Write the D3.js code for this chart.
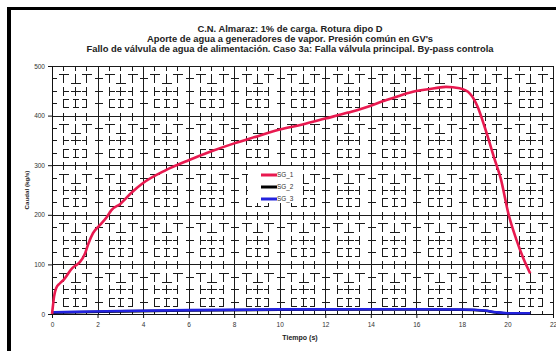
<!DOCTYPE html>
<html>
<head>
<meta charset="utf-8">
<script src="https://cdn.jsdelivr.net/npm/d3@7"></script>
<style>
  html, body { margin: 0; padding: 0; background: #fff; }
  svg { display: block; font-family: "Liberation Sans", Arial, sans-serif; }
</style>
</head>
<body>
<svg id="chart" width="556" height="351"></svg>
<script>
// Caudal de agua de aporte a cada generador de vapor (kg/s) frente al tiempo (s)
const titleLines = [
  "C.N. Almaraz: 1% de carga. Rotura dipo D",
  "Aporte de agua a generadores de vapor. Presión común en GV's",
  "Fallo de válvula de agua de alimentación. Caso 3a: Falla válvula principal. By-pass controla"
];
const xTicks = [0, 2, 4, 6, 8, 10, 12, 14, 16, 18, 20, 22];
const yTicks = [0, 100, 200, 300, 400, 500];
const seriesNames = ["SG_1", "SG_2", "SG_3"];
const seriesColors = ["#e8194f", "#000000", "#2222dd"];

const sg1Time = [0, 0.05, 0.09, 0.18, 0.35, 0.53, 0.88, 1.1, 1.23, 1.45, 1.6, 1.8, 2.1, 2.4, 2.6, 3.0, 3.5, 4, 5, 6, 7, 8, 9, 10, 11, 12, 13, 14, 14.4, 15, 15.85, 16.5, 17.3, 17.9, 18.36, 18.7, 19.0, 19.45, 19.7, 20.06, 20.4, 20.7, 21.0];
const sg1Flow = [0, 20, 35, 52, 62, 70, 92, 100, 105, 122, 142, 163, 179, 195, 209, 222, 245, 264, 290, 310, 328, 344, 358, 372, 382, 394, 406, 420, 427, 436, 448, 453, 458, 455, 444, 417, 377, 310, 274, 199, 149, 112, 82];

const sg2Time = [0, 1, 3, 6, 10, 14, 16, 18, 19, 19.5, 20, 21];
const sg2Flow = [2.6, 3.5, 5.2, 7, 8.6, 9, 9, 8.6, 6.5, 3, 1, 0.8];

const sg3Time = [0, 1, 3, 6, 10, 14, 16, 18, 19, 19.5, 20, 21];
const sg3Flow = [3.4, 4.2, 6, 7.8, 9.3, 9.6, 9.6, 9.2, 7, 3.6, 1.6, 1.4];

const series = [
  { name: seriesNames[0], color: seriesColors[0], t: sg1Time, v: sg1Flow },
  { name: seriesNames[1], color: seriesColors[1], t: sg2Time, v: sg2Flow },
  { name: seriesNames[2], color: seriesColors[2], t: sg3Time, v: sg3Flow }
];

const svg = d3.select("#chart");
const W = 556, H = 351;
const plot = { left: 52, right: 553, top: 66, bottom: 314 };

// Marco exterior (sombra negra arriba e izquierda)
svg.append("line").attr("x1", 7).attr("x2", W).attr("y1", 8.5).attr("y2", 8.5)
  .attr("stroke", "#000").attr("stroke-width", 3);
svg.append("line").attr("x1", 9).attr("x2", 9).attr("y1", 7).attr("y2", H)
  .attr("stroke", "#000").attr("stroke-width", 4);

// Títulos
svg.selectAll("text.title").data(titleLines).join("text")
  .attr("class", "title")
  .attr("x", 290).attr("y", (d, i) => 32 + i * 9.8)
  .attr("text-anchor", "middle")
  .attr("font-size", 9.4).attr("font-weight", "bold").attr("fill", "#222")
  .text(d => d);

const x = d3.scaleLinear().domain([0, 22]).range([plot.left, plot.right]);
const y = d3.scaleLinear().domain([0, 500]).range([plot.bottom, plot.top]);

const grid = svg.append("g").attr("stroke", "#1a1a1a").attr("stroke-width", 1)
  .attr("shape-rendering", "crispEdges");

// Rejilla secundaria discontinua: pequeños trazos en cada cruce de 0,5 s y 25 kg/s
// Formas de los trazos según la fila (dentro de cada bloque de 100 kg/s) y la columna.
const glyphRows = {
  1: ["T", "U", "T"],
  2: ["R", "+", "L"],
  3: ["C", "I", "D"]
};
const minorX = d3.range(0.5, 22, 0.5).filter(v => v % 2 !== 0);
const minorY = d3.range(25, 500, 25).filter(v => v % 100 !== 0);
const cells = [];
minorX.forEach(tv => minorY.forEach(qv => {
  const col = Math.round((tv % 2) / 0.5) - 1;      // 0..2
  const row = 4 - Math.round((qv % 100) / 25);     // 1..3 desde arriba
  cells.push({ tv, qv, g: glyphRows[row][col] });
}));

function glyphSegments(g) {
  const v = 4.5, h = 5, b = 4;
  const segs = [];
  const V = (y1, y2) => segs.push([0, y1, 0, y2]);
  const Hh = (x1, x2, yy) => segs.push([x1, yy, x2, yy]);
  switch (g) {
    case "+": V(-v, v); Hh(-h, h, 0); break;
    case "R": V(-v, v); Hh(0, h, 0); break;          // ⊢
    case "L": V(-v, v); Hh(-h, 0, 0); break;         // ⊣
    case "C": V(-v, v); Hh(0, h, -b); Hh(0, h, b); break;    // ⊏
    case "D": V(-v, v); Hh(-h, 0, -b); Hh(-h, 0, b); break;  // ⊐
    case "I": V(-v, v); Hh(-3, 3, -b); Hh(-3, 3, b); break;
    case "U": V(-v, v); Hh(-h, h, v); break;         // ⊥
    case "T": V(-v, v); Hh(-h, h, -v); break;        // ⊤
  }
  return segs;
}
cells.forEach(c => {
  const cx = Math.round(x(c.tv)) + 0.5, cy = Math.round(y(c.qv)) + 0.5;
  glyphSegments(c.g).forEach(s => {
    grid.append("line")
      .attr("x1", cx + s[0]).attr("y1", cy + s[1])
      .attr("x2", cx + s[2]).attr("y2", cy + s[3]);
  });
});
// Trazos cortos pegados a las líneas principales
xTicks.forEach(tv => minorY.forEach(qv => {
  const cx = Math.round(x(tv)) + 0.5, cy = Math.round(y(qv)) + 0.5;
  grid.append("line").attr("x1", cx - (tv === 0 ? 0 : 4)).attr("x2", cx + (tv === 22 ? 0 : 4))
    .attr("y1", cy).attr("y2", cy);
}));
yTicks.forEach(qv => minorX.forEach(tv => {
  const cx = Math.round(x(tv)) + 0.5, cy = Math.round(y(qv)) + 0.5;
  grid.append("line").attr("x1", cx).attr("x2", cx)
    .attr("y1", cy - (qv === 500 ? 0 : 4)).attr("y2", cy + (qv === 0 ? 0 : 4));
}));

// Rejilla principal
grid.selectAll("line.Mx").data(xTicks).join("line").attr("class", "Mx")
  .attr("x1", d => Math.round(x(d)) + 0.5).attr("x2", d => Math.round(x(d)) + 0.5)
  .attr("y1", plot.top).attr("y2", plot.bottom);
grid.selectAll("line.My").data(yTicks).join("line").attr("class", "My")
  .attr("x1", plot.left).attr("x2", plot.right)
  .attr("y1", d => Math.round(y(d)) + 0.5).attr("y2", d => Math.round(y(d)) + 0.5);

// Ejes
const xAxis = svg.append("g").attr("transform", `translate(0,${plot.bottom})`)
  .call(d3.axisBottom(x).tickValues(xTicks).tickSize(4).tickPadding(4).tickSizeOuter(0));
const yAxis = svg.append("g").attr("transform", `translate(${plot.left},0)`)
  .call(d3.axisLeft(y).tickValues(yTicks).tickSize(4).tickPadding(3).tickSizeOuter(0));
[xAxis, yAxis].forEach(a => {
  a.selectAll("path.domain").attr("stroke", "#111");
  a.selectAll(".tick line").attr("stroke", "#111");
  a.selectAll(".tick text").attr("font-size", 6.5).attr("fill", "#333")
    .attr("font-family", "'Liberation Sans', Arial, sans-serif");
});

// Rótulos de ejes
svg.append("text").attr("x", 300).attr("y", 340).attr("text-anchor", "middle")
  .attr("font-size", 7).attr("font-weight", "bold").attr("fill", "#222").text("Tiempo (s)");
svg.append("text").attr("transform", "translate(29,190) rotate(-90)").attr("text-anchor", "middle")
  .attr("font-size", 6.2).attr("font-weight", "bold").attr("fill", "#222").text("Caudal (kg/s)");

// Curvas
const line = d3.line().x(d => x(d[0])).y(d => y(d[1])).curve(d3.curveMonotoneX);
[series[1], series[2], series[0]].forEach(s => {
  svg.append("path")
    .datum(s.t.map((t, i) => [t, s.v[i]]))
    .attr("d", line)
    .attr("fill", "none")
    .attr("stroke", s.color)
    .attr("stroke-width", 2.6)
    .attr("stroke-linejoin", "round");
});

// Leyenda
const lg = svg.append("g");
lg.append("rect").attr("x", 248).attr("y", 166).attr("width", 55).attr("height", 37).attr("fill", "#fff");
series.forEach((s, i) => {
  const yy = 175 + i * 12;
  lg.append("line").attr("x1", 261).attr("x2", 277).attr("y1", yy).attr("y2", yy)
    .attr("stroke", s.color).attr("stroke-width", 3);
  lg.append("text").attr("x", 277).attr("y", yy + 2.2)
    .attr("font-size", 6.4).attr("fill", "#333").text(s.name);
});
</script>
</body>
</html>
